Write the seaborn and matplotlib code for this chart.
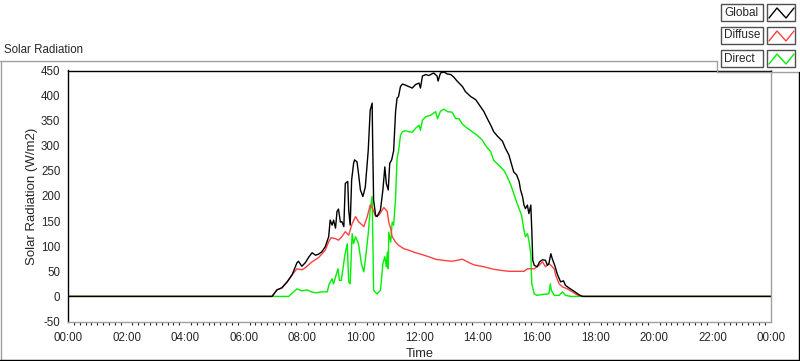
import pandas as pd
import seaborn as sns
import matplotlib.pyplot as plt
import matplotlib.ticker as mticker
from matplotlib.lines import Line2D
from matplotlib.patches import Rectangle

# time in minutes since midnight, radiation in W/m2
global_t = [0, 418, 428, 438, 449, 459, 469, 472, 479, 486,
            493, 500, 507, 513, 520, 527, 534, 537, 541, 544,
            548, 551, 554, 558, 561, 565, 568, 573, 575, 578,
            581, 585, 587, 592, 595, 599, 604, 609, 615, 619,
            623, 624, 626, 630, 633, 640, 645, 649, 652, 656,
            659, 663, 667, 671, 674, 677, 681, 685, 691, 698,
            705, 712, 719, 722, 726, 733, 739, 749, 756, 758,
            763, 770, 777, 784, 790, 797, 808, 814, 825, 835,
            845, 852, 859, 866, 872, 879, 890, 896, 903, 908,
            913, 919, 924, 927, 931, 934, 937, 941, 944, 948,
            950, 952, 955, 961, 966, 972, 978, 982, 985, 989,
            992, 998, 1002, 1009, 1015, 1019, 1026, 1037, 1047, 1054,
            1440]
global_v = [0, 0, 13, 17, 29, 43, 67, 70, 60, 67,
            78, 87, 82, 84, 89, 99, 119, 152, 142, 152,
            136, 169, 174, 148, 149, 139, 225, 229, 172, 142,
            232, 265, 272, 268, 245, 212, 199, 218, 291, 371,
            385, 311, 192, 162, 159, 172, 212, 258, 225, 212,
            265, 272, 290, 368, 395, 398, 418, 423, 421, 418,
            415, 422, 425, 415, 439, 442, 440, 445, 439, 429,
            445, 447, 443, 442, 437, 429, 418, 408, 398, 392,
            378, 368, 354, 341, 328, 320, 309, 295, 282, 265,
            248, 242, 229, 212, 199, 182, 175, 182, 165, 182,
            132, 72, 62, 59, 69, 73, 72, 62, 65, 85,
            75, 59, 45, 29, 31, 22, 17, 10, 3, 0,
            0]

diffuse_t = [0, 418, 428, 438, 449, 459, 469, 479, 486, 500,
             513, 527, 534, 539, 548, 554, 561, 568, 575, 582,
             589, 595, 606, 613, 619, 624, 630, 637, 647, 654,
             657, 661, 664, 671, 677, 688, 698, 712, 726, 739,
             753, 767, 787, 808, 818, 831, 852, 872, 886, 903,
             934, 941, 955, 965, 972, 978, 985, 989, 996, 999,
             1006, 1013, 1023, 1033, 1043, 1054, 1440]
diffuse_v = [0, 0, 13, 17, 29, 43, 55, 53, 57, 69,
             77, 92, 109, 117, 115, 112, 119, 129, 122, 145,
             159, 149, 139, 159, 182, 175, 159, 162, 177, 169,
             148, 135, 119, 108, 102, 95, 92, 87, 83, 79,
             74, 72, 70, 74, 69, 63, 59, 54, 52, 50,
             50, 55, 55, 62, 69, 59, 65, 62, 55, 42,
             25, 19, 15, 9, 3, 0, 0]

direct_t = [0, 452, 462, 469, 479, 490, 496, 507, 520, 531,
            535, 541, 544, 549, 553, 556, 560, 567, 572, 575,
            578, 582, 585, 589, 595, 601, 606, 609, 615, 619,
            623, 625, 626, 633, 640, 645, 649, 652, 654, 656,
            657, 661, 664, 667, 671, 674, 677, 681, 685, 691,
            698, 705, 712, 719, 722, 726, 733, 743, 753, 757,
            763, 770, 777, 787, 794, 801, 808, 818, 828, 838,
            849, 855, 866, 872, 883, 893, 900, 907, 912, 917,
            924, 929, 934, 937, 941, 944, 948, 950, 955, 961,
            972, 985, 988, 990, 996, 1006, 1013, 1019, 1030, 1440]
direct_v = [0, 0, 9, 15, 11, 13, 10, 7, 9, 9,
            25, 35, 25, 42, 55, 32, 32, 82, 105, 29,
            25, 125, 105, 119, 105, 65, 49, 72, 125, 172,
            199, 79, 12, 5, 12, 65, 79, 59, 88, 55,
            128, 108, 148, 142, 195, 275, 288, 321, 328, 330,
            328, 327, 335, 341, 331, 351, 358, 361, 368, 354,
            369, 373, 368, 367, 354, 354, 343, 335, 328, 321,
            311, 301, 288, 271, 261, 251, 238, 222, 208, 193,
            175, 162, 132, 119, 125, 112, 85, 25, 5, 2,
            4, 5, 25, 12, 2, 2, 9, 2, 0, 0]

series_names = ["Global", "Diffuse", "Direct"]
series_colors = ["#000000", "#ff4040", "#00f000"]

sns.set_style("white")
plt.rcParams["font.family"] = ["Liberation Sans", "DejaVu Sans"]
plt.rcParams["font.size"] = 8
plt.rcParams["axes.unicode_minus"] = False

W, H = 800, 361
fig = plt.figure(figsize=(W / 100, H / 100), dpi=100)
ax = fig.add_axes([68 / W, 1 - 321.5 / H, 703 / W, 251 / H])

# draw green first, black last so the global curve sits on top
df_direct = pd.DataFrame({"t": direct_t, "v": direct_v})
df_diffuse = pd.DataFrame({"t": diffuse_t, "v": diffuse_v})
df_global = pd.DataFrame({"t": global_t, "v": global_v})
sns.lineplot(data=df_direct, x="t", y="v", color=series_colors[2], lw=1, ax=ax, estimator=None, sort=False)
sns.lineplot(data=df_diffuse, x="t", y="v", color=series_colors[1], lw=1, ax=ax, estimator=None, sort=False)
sns.lineplot(data=df_global, x="t", y="v", color=series_colors[0], lw=1, ax=ax, estimator=None, sort=False)

ax.set_xlim(0, 1440)
ax.set_ylim(-50, 450)
ax.xaxis.set_major_locator(mticker.MultipleLocator(120))
ax.xaxis.set_minor_locator(mticker.MultipleLocator(12))
ax.xaxis.set_major_formatter(mticker.FuncFormatter(lambda m, p: f"{int(m // 60) % 24:02d}:{int(m % 60):02d}"))
ax.yaxis.set_major_locator(mticker.MultipleLocator(50))
ax.tick_params(axis="y", which="major", direction="out", length=4.3, width=0.8, pad=1.2, labelsize=8.3)
ax.tick_params(axis="x", which="major", direction="out", length=3.8, width=0.8, pad=3.5, labelsize=8.3)
ax.tick_params(axis="x", which="minor", direction="out", length=2.2, width=0.8, bottom=True)
ax.set_xlabel("Time", fontsize=9.3, labelpad=3)
ax.set_ylabel("Solar Radiation (W/m2)", fontsize=9.5, labelpad=2)

for side in ["left", "top"]:
    ax.spines[side].set_color("black")
    ax.spines[side].set_linewidth(1.0)
for side in ["right", "bottom"]:
    ax.spines[side].set_color("#a0a0a0")
    ax.spines[side].set_linewidth(1.0)

# panel title and frame
fig.text(4 / W, 1 - 50 / H, "Solar Radiation", fontsize=8.3, va="center", ha="left")
frame_gray = "#a0a0a0"
fig.add_artist(Line2D([0, 717 / W], [1 - 61 / H] * 2, color=frame_gray, lw=1))
fig.add_artist(Line2D([0.6 / W] * 2, [1 - 61 / H, 0], color=frame_gray, lw=1))
fig.add_artist(Line2D([717 / W] * 2, [1 - 61 / H, 1 - 72 / H], color=frame_gray, lw=1))
fig.add_artist(Line2D([717 / W, 1], [1 - 72 / H] * 2, color=frame_gray, lw=1))
fig.add_artist(Line2D([0, 1], [0.6 / H] * 2, color="black", lw=1))
fig.add_artist(Line2D([799.4 / W] * 2, [0, 1 - 72 / H], color="black", lw=1))

# legend: name box + swatch box per series
row_tops = [4, 27, 50]
for name, color, top in zip(series_names, series_colors, row_tops):
    h = 17
    fig.add_artist(Rectangle((721 / W, 1 - (top + h) / H), 42 / W, h / H,
                             transform=fig.transFigure, facecolor="white",
                             edgecolor="#505050", lw=1))
    fig.add_artist(Rectangle((767 / W, 1 - (top + h) / H), 28 / W, h / H,
                             transform=fig.transFigure, facecolor="white",
                             edgecolor="#505050", lw=1))
    fig.text(724 / W, 1 - (top + h / 2) / H, name, fontsize=8.5, va="center", ha="left")
    zx = [769, 777, 786, 794]
    zy = [top + 14, top + 4, top + 14, top + 4]
    fig.add_artist(Line2D([x / W for x in zx], [1 - y / H for y in zy], color=color, lw=1))

fig.savefig("out.png", dpi=100)
